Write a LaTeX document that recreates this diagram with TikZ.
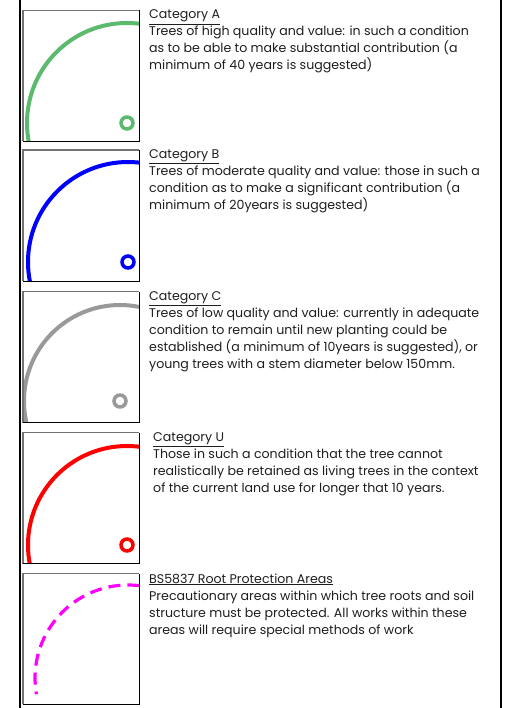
\documentclass[tikz,border=0pt]{standalone}
\usepackage{fontspec}
\setmainfont{Poppins}
\usetikzlibrary{positioning}

\definecolor{catA}{RGB}{92,186,110}
\definecolor{catB}{RGB}{0,0,255}
\definecolor{catC}{RGB}{153,153,153}
\definecolor{catU}{RGB}{255,0,0}
\definecolor{rpa}{RGB}{255,0,255}
\definecolor{ink}{RGB}{30,30,30}

\tikzset{
  keybox/.style={minimum width=116pt, minimum height=131pt, inner sep=0pt, outer sep=0pt, anchor=north west},
  litedge/.style={draw=black!55, line width=1.4pt},
  darkedge/.style={draw=black, line width=0.8pt},
  sideline/.style={draw=black, line width=1.8pt},
  canopy/.style={line width=4pt},
  stem/.style={line width=3.5pt},
  keytitle/.style={anchor=base west, inner sep=0pt, text=ink, font=\fontsize{12.6}{17}\selectfont},
  keytext/.style={anchor=base west, align=left, inner sep=0pt, text=ink, font=\fontsize{12.6}{17}\selectfont},
}

\newcommand{\keyframe}[1]{%
  \draw[litedge] (#1.south west) -- (#1.north west) -- (#1.north east);
  \draw[darkedge] (#1.north east) -- (#1.south east) -- (#1.south west);}

\begin{document}
\begin{tikzpicture}[x=1pt, y=-1pt]
\useasboundingbox (0,0) rectangle (509,708);

% outer rules
\draw[sideline] (20,0) -- (20,708);
\draw[sideline] (501,0) -- (501,708);

% key boxes
\node[keybox] (boxA) at (23,10.5) {};
\node[keybox] (boxB) at (23,150) {};
\node[keybox] (boxC) at (23,291.5) {};
\node[keybox] (boxU) at (23,432.5) {};
\node[keybox, minimum height=130.5pt] (boxR) at (23,573.5) {};

% tree stems
\coordinate (stemA) at (127,123);
\coordinate (stemB) at (128,262);
\coordinate (stemC) at (120,401);
\coordinate (stemU) at (127,545);
\coordinate (stemR) at (128,678);

% canopies
\begin{scope}
\clip (boxA.north west) rectangle (boxA.south east);
\draw[canopy, catA] (stemA) circle[radius=100pt];
\end{scope}
\begin{scope}
\clip (boxB.north west) rectangle (boxB.south east);
\draw[canopy, catB] (stemB) circle[radius=100pt];
\end{scope}
\begin{scope}
\clip (boxC.north west) rectangle (boxC.south east);
\draw[canopy, catC] (stemC) circle[radius=96pt];
\end{scope}
\begin{scope}
\clip (boxU.north west) rectangle (boxU.south east);
\draw[canopy, catU] (stemU) circle[radius=99pt];
\end{scope}
\begin{scope}
\clip (boxR.north west) rectangle (boxR.south east);
\draw[rpa, line width=3.2pt, dash pattern=on 12pt off 7pt] (stemR) ++(83:93pt) arc[start angle=83, end angle=190, radius=93pt];
\end{scope}

\draw[stem, catA] (stemA) circle[radius=6pt];
\draw[stem, catB] (stemB) circle[radius=6pt];
\draw[stem, catC] (stemC) circle[radius=6pt];
\draw[stem, catU] (stemU) circle[radius=6pt];

\keyframe{boxA}
\keyframe{boxB}
\keyframe{boxC}
\keyframe{boxU}
\keyframe{boxR}

% key texts (base = last line)
\node[keytitle] (titleA) at (149,19) {\underline{Category A}};
\node[keytext] (textA) at (149,70) {Trees of high quality and value: in such a condition\\
as to be able to make substantial contribution (a\\
minimum of 40 years is suggested)};

\node[keytitle] (titleB) at (149,158.5) {\underline{Category B}};
\node[keytext] (textB) at (149,209.5) {Trees of moderate quality and value: those in such a\\
condition as to make a significant contribution (a\\
minimum of 20years is suggested)};

\node[keytitle] (titleC) at (149,300) {\underline{Category C}};
\node[keytext] (textC) at (149,368) {Trees of low quality and value: currently in adequate\\
condition to remain until new planting could be\\
established (a minimum of 10years is suggested), or\\
young trees with a stem diameter below 150mm.};

\node[keytitle] (titleU) at (153,441.5) {\underline{Category U}};
\node[keytext] (textU) at (153,492.5) {Those in such a condition that the tree cannot\\
realistically be retained as living trees in the context\\
of the current land use for longer that 10 years.};

\node[keytitle] (titleR) at (149,583) {\underline{BS5837 Root Protection Areas}};
\node[keytext] (textR) at (149,634) {Precautionary areas within which tree roots and soil\\
structure must be protected. All works within these\\
areas will require special methods of work};
\end{tikzpicture}
\end{document}
